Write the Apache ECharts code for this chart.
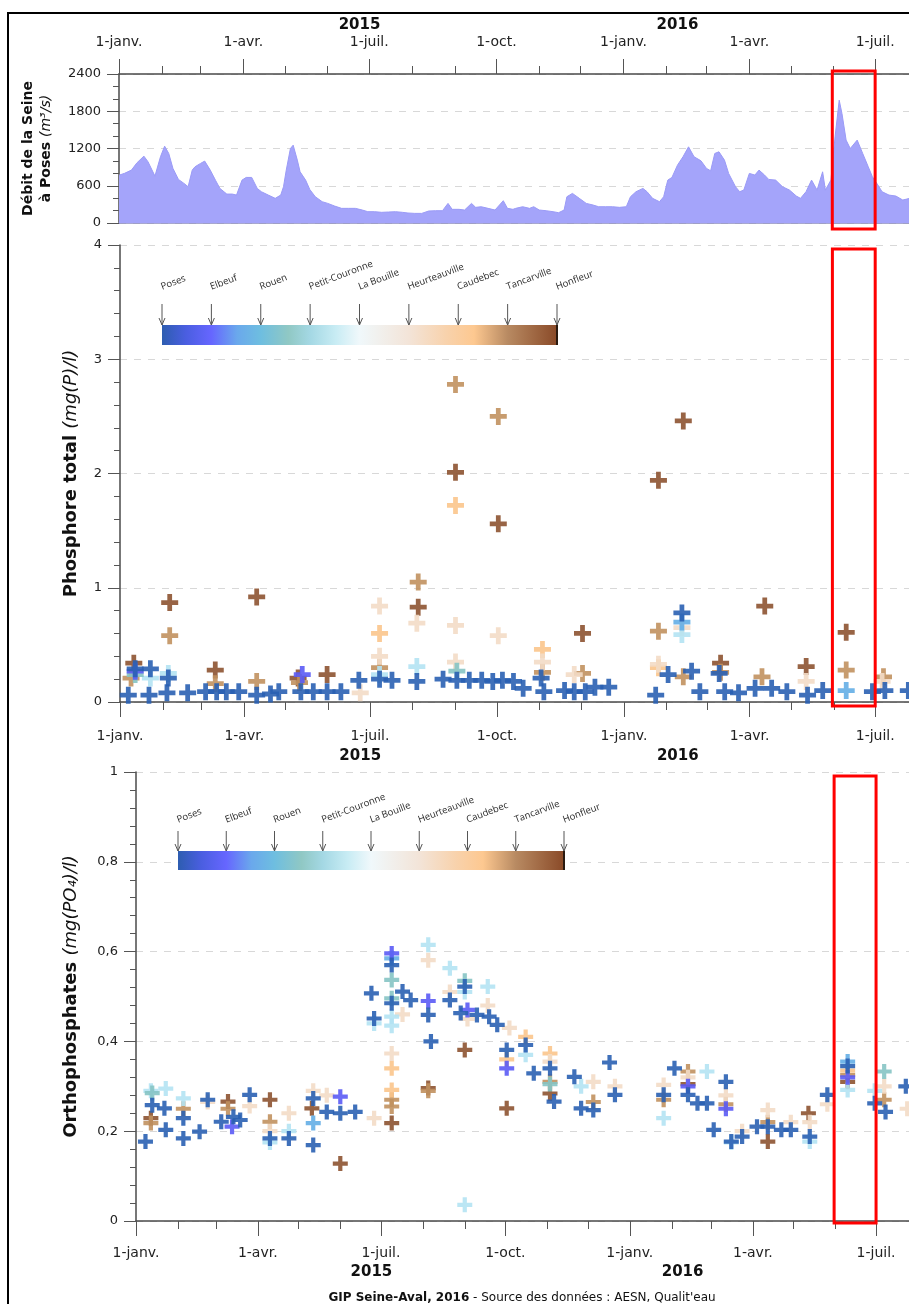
<!DOCTYPE html>
<html><head><meta charset="utf-8">
<script src="https://cdn.jsdelivr.net/npm/echarts@6/dist/echarts.min.js"></script>
<style>html,body{margin:0;padding:0;background:#fff;overflow:hidden;width:909px;height:1304px}#c{width:960px;height:1304px}</style>
</head><body><div id="c"></div><script>
// ---------- DATA (x = days since 1 Jan 2015) ----------
const stations = ['Poses','Elbeuf','Rouen','Petit-Couronne','La Bouille','Heurteauville','Caudebec','Tancarville','Honfleur'];
const monthNames = ['janv.','févr.','mars','avr.','mai','juin','juil.','août','sept.','oct.','nov.','déc.'];
const yearLabelDays = [174, 404];
const yearNames = ['2015', '2016'];
const flowTicks = [0, 600, 1200, 1800, 2400];
const ptTicks = [0, 1, 2, 3, 4];
const po4Ticks = [0, 0.2, 0.4, 0.6, 0.8, 1];
const highlightDays = [516, 547];

const flowDays = [0,4,9,13,18,21,26,30,33,36,39,43,47,50,53,55,59,62,66,70,73,78,82,85,89,92,96,100,103,108,113,117,119,121,124,126,129,131,135,138,142,147,151,156,161,166,171,176,180,185,190,195,200,205,209,214,219,224,229,234,238,241,246,250,255,258,262,267,272,278,281,285,287,292,297,300,304,309,314,318,322,324,326,328,333,338,343,347,352,357,362,367,370,374,379,382,386,391,394,397,400,404,408,412,416,421,425,428,431,434,438,441,446,449,452,456,460,463,467,470,475,480,485,490,493,497,501,503,505,509,511,515,518,521,523,526,529,534,538,542,545,549,552,557,562,567,572,578];
const flowValues = [770,800,852,970,1077,986,756,1067,1238,1120,880,702,638,584,852,906,960,997,852,681,557,466,466,450,691,734,734,557,504,450,397,450,584,852,1200,1254,1013,825,691,541,423,343,316,273,236,236,236,209,182,182,172,177,182,172,161,155,155,193,198,198,316,220,220,209,316,252,262,236,209,359,236,220,236,262,236,262,209,198,182,166,209,423,450,477,397,316,289,262,262,262,252,262,423,504,557,504,397,343,423,691,734,932,1067,1227,1067,1002,879,841,1120,1147,1013,799,584,504,531,799,772,852,772,702,691,584,531,434,397,504,691,611,531,825,531,691,1388,1978,1763,1335,1200,1335,1120,906,745,611,504,450,434,370,397,380];

// Phosphore total (mg(P)/l) : [day, value]
const ptPoses = [[6,0.06],[11,0.29],[21,0.06],[22,0.29],[34,0.08],[35,0.21],[49,0.08],[62,0.09],[70,0.09],[77,0.09],[86,0.09],[99,0.06],[109,0.07],[115,0.09],[131,0.09],[140,0.09],[150,0.09],[160,0.09],[173,0.19],[188,0.20],[197,0.19],[215,0.18],[234,0.20],[244,0.19],[253,0.19],[262,0.19],[270,0.18],[277,0.19],[285,0.18],[292,0.12],[305,0.21],[307,0.09],[322,0.10],[329,0.09],[337,0.09],[344,0.13],[354,0.13],[388,0.06],[397,0.24],[407,0.78],[414,0.27],[420,0.09],[434,0.25],[438,0.09],[448,0.08],[460,0.12],[472,0.12],[483,0.09],[498,0.06],[509,0.10],[545,0.09],[554,0.10],[571,0.10]];
const ptElbeuf = [[11,0.27],[132,0.24]];
const ptRouen = [[407,0.70],[526,0.10]];
const ptPetitCouronne = [[11,0.24],[244,0.27]];
const ptLaBouille = [[22,0.21],[35,0.25],[188,0.24],[215,0.31],[407,0.59]];
const ptHeurteauville = [[174,0.08],[188,0.84],[188,0.40],[215,0.69],[243,0.67],[243,0.35],[274,0.58],[306,0.35],[329,0.24],[390,0.33],[407,0.65],[497,0.18],[552,0.18]];
const ptCaudebec = [[188,0.60],[243,1.72],[306,0.46],[390,0.30]];
const ptTancarville = [[8,0.21],[36,0.58],[69,0.16],[99,0.18],[130,0.17],[188,0.30],[216,1.05],[243,2.78],[274,2.50],[306,0.26],[335,0.25],[390,0.62],[408,0.22],[435,0.26],[465,0.22],[526,0.28],[553,0.22]];
const ptHonfleur = [[10,0.34],[36,0.87],[69,0.28],[99,0.92],[129,0.21],[150,0.24],[216,0.83],[243,2.01],[274,1.56],[335,0.60],[390,1.94],[408,2.46],[435,0.34],[467,0.84],[497,0.31],[526,0.61]];

// Orthophosphates (mg(PO4)/l) : [day, value]
const po4Poses = [[7,0.177],[12,0.258],[21,0.251],[22,0.203],[35,0.229],[35,0.184],[47,0.199],[53,0.27],[63,0.221],[72,0.232],[77,0.225],[84,0.281],[99,0.184],[113,0.184],[131,0.273],[131,0.169],[141,0.243],[151,0.24],[162,0.243],[174,0.507],[176,0.451],[189,0.570],[189,0.485],[197,0.511],[203,0.492],[216,0.459],[218,0.40],[232,0.492],[240,0.463],[243,0.522],[252,0.459],[261,0.455],[267,0.437],[274,0.381],[288,0.392],[294,0.329],[306,0.34],[309,0.266],[324,0.321],[329,0.251],[338,0.247],[350,0.353],[354,0.281],[390,0.281],[398,0.34],[408,0.281],[415,0.262],[422,0.262],[427,0.203],[436,0.31],[440,0.177],[448,0.188],[459,0.21],[467,0.21],[477,0.203],[484,0.203],[498,0.188],[511,0.281],[526,0.345],[546,0.262],[554,0.243],[569,0.30]];
const po4Elbeuf = [[71,0.21],[151,0.277],[189,0.596],[216,0.49],[245,0.47],[274,0.34],[408,0.30],[436,0.25],[526,0.32]];
const po4Rouen = [[131,0.218],[189,0.585],[526,0.355]];
const po4PetitCouronne = [[12,0.285],[189,0.537],[189,0.496],[243,0.535],[306,0.305],[553,0.333]];
const po4LaBouille = [[11,0.29],[22,0.295],[35,0.273],[99,0.175],[113,0.20],[176,0.44],[189,0.455],[189,0.435],[216,0.615],[232,0.563],[243,0.51],[243,0.036],[260,0.522],[288,0.37],[329,0.30],[390,0.229],[422,0.333],[440,0.175],[498,0.177],[526,0.292],[546,0.29]];
const po4Heurteauville = [[53,0.265],[84,0.256],[99,0.20],[113,0.24],[131,0.29],[141,0.28],[176,0.229],[189,0.373],[197,0.46],[216,0.581],[232,0.51],[245,0.45],[260,0.48],[276,0.43],[306,0.355],[338,0.31],[354,0.30],[390,0.303],[408,0.32],[436,0.28],[448,0.20],[467,0.247],[484,0.22],[498,0.22],[511,0.26],[553,0.30],[570,0.25]];
const po4Caudebec = [[189,0.34],[189,0.292],[274,0.36],[288,0.41],[306,0.373],[526,0.335]];
const po4Tancarville = [[11,0.218],[35,0.25],[68,0.25],[99,0.221],[189,0.27],[189,0.255],[216,0.29],[306,0.31],[338,0.265],[390,0.27],[408,0.333],[436,0.26],[467,0.22],[526,0.325],[553,0.27]];
const po4Honfleur = [[11,0.229],[68,0.266],[99,0.27],[130,0.251],[151,0.128],[189,0.218],[216,0.296],[243,0.381],[274,0.251],[306,0.284],[408,0.305],[467,0.177],[497,0.24],[526,0.31]];

const ptData = [ptPoses, ptElbeuf, ptRouen, ptPetitCouronne, ptLaBouille, ptHeurteauville, ptCaudebec, ptTancarville, ptHonfleur];
const po4Data = [po4Poses, po4Elbeuf, po4Rouen, po4PetitCouronne, po4LaBouille, po4Heurteauville, po4Caudebec, po4Tancarville, po4Honfleur];

// ---------- STYLE ----------
const stationColors = ['#2a61b2','#5b5bf5','#64aee6','#86c4c4','#b4e3f3','#f3dcc6','#fbc58c','#c1915f','#8d5331'];
const barStops = [[0,'#2d5db0'],[0.06,'#4a5ee0'],[0.125,'#6666ff'],[0.19,'#6aa8ec'],[0.25,'#6ebee0'],[0.32,'#90c8c4'],[0.375,'#a4d8e4'],[0.44,'#c8ecf4'],[0.5,'#f0f8fb'],[0.625,'#f3e4d8'],[0.72,'#f8d2ac'],[0.79,'#fdc890'],[0.875,'#b88a62'],[1,'#8a4a28']];
const FF = 'DejaVu Sans';
const plus = 'path://M-1.4,-5H1.4V-1.4H5V1.4H1.4V5H-1.4V1.4H-5V-1.4H-1.4Z';

const DAY0 = new Date(2015, 0, 1).getTime();
const XMIN = 0, XMAX = 578;
const monthTicks = [], quarterTicks = [], monthOfDay = {};
for (let m = 0; m <= 19; m++) {
  const d = Math.round((new Date(2015, m, 1).getTime() - DAY0) / 86400000);
  monthTicks.push(d); monthOfDay[d] = m % 12;
  if (m % 3 === 0) quarterTicks.push(d);
}

const grids = [
  {left:119, top:74, width:799, height:149},
  {left:120, top:245, width:798, height:457},
  {left:136, top:772, width:782, height:449}
];
const axisCol = '#4a4a4a';
function xAxes(g, pos, mMargin, yMargin) {
  const base = {type:'value', gridIndex:g, position:pos, min:XMIN, max:XMAX, splitLine:{show:false}, minorTick:{show:false}};
  return [
    Object.assign({}, base, {axisLine:{show:true, onZero:false, lineStyle:{color:axisCol, width:1.5}},
      axisTick:{show:true, customValues:quarterTicks, length:15, lineStyle:{color:'#555', width:1}},
      axisLabel:{show:true, customValues:quarterTicks, margin:mMargin, fontFamily:FF, fontSize:14, color:'#222',
        formatter: v => '1-' + monthNames[monthOfDay[Math.round(v)]]}}),
    Object.assign({}, base, {axisLine:{show:false, onZero:false},
      axisTick:{show:true, customValues:monthTicks, length:8, lineStyle:{color:'#555', width:1}},
      axisLabel:{show:false}}),
    Object.assign({}, base, {axisLine:{show:false, onZero:false}, axisTick:{show:false},
      axisLabel:{show:true, customValues:yearLabelDays, margin:yMargin, fontFamily:FF, fontSize:15, fontWeight:'bold', color:'#111',
        formatter: v => yearNames[yearLabelDays.indexOf(Math.round(v))] || ''}})
  ];
}
const xAxis = [].concat(
  xAxes(0, 'top', 25, 41),
  [{type:'value', gridIndex:0, position:'bottom', min:XMIN, max:XMAX, axisLine:{show:true, onZero:false, lineStyle:{color:'#8c8cc0', width:1.5}}, axisTick:{show:false}, axisLabel:{show:false}, splitLine:{show:false}}],
  xAxes(1, 'bottom', 27, 47),
  xAxes(2, 'bottom', 25, 44)
);
function yAxis(g, ticks, minorSplit, fmt, name, gap) {
  return {type:'value', gridIndex:g, min:ticks[0], max:ticks[ticks.length-1], interval:ticks[1]-ticks[0],
    axisLine:{show:true, onZero:false, lineStyle:{color:axisCol, width:1.5}},
    axisTick:{show:true, length:12, lineStyle:{color:'#555'}},
    minorTick:{show:true, splitNumber:minorSplit, length:6, lineStyle:{color:'#555'}},
    axisLabel:{margin:18, fontFamily:FF, fontSize:13, color:'#222', formatter:fmt},
    splitLine:{show:true, lineStyle:{color:'#d8d8d8', type:[7,7], width:1}},
    name:name, nameLocation:'middle', nameRotate:90, nameGap:gap,
    nameTextStyle:{align:'center', rich:{
      b:{fontFamily:FF, fontWeight:'bold', fontSize:g===0?14:18, color:'#111', lineHeight:g===0?18:22},
      i:{fontFamily:FF, fontStyle:'italic', fontSize:g===0?14:18, color:'#111', lineHeight:g===0?18:22}}}};
}
const yAxisList = [
  yAxis(0, flowTicks, 3, v => String(v), '{b|Débit de la Seine}\n{b|à Poses }{i|(m³/s)}', 64),
  yAxis(1, ptTicks, 5, v => String(v), '{b|Phosphore total }{i|(mg(P)/l)}', 38),
  yAxis(2, po4Ticks, 5, v => String(v).replace('.', ','), '{b|Orthophosphates }{i|(mg(PO₄)/l)}', 54)
];

const series = [{
  type:'line', xAxisIndex:0, yAxisIndex:0, data: flowDays.map((d,i) => [d, flowValues[i]]),
  showSymbol:false, lineStyle:{width:1, color:'#9a9af6'}, areaStyle:{color:'#a4a4fa', opacity:1}, silent:true
}];
for (let s = stations.length - 1; s >= 0; s--) {
  series.push({type:'scatter', name:stations[s], xAxisIndex:4, yAxisIndex:1, data: ptData[s],
    symbol:plus, symbolSize:17, itemStyle:{color:stationColors[s], opacity:0.9}});
  series.push({type:'scatter', name:stations[s], xAxisIndex:7, yAxisIndex:2, data: po4Data[s],
    symbol:plus, symbolSize:15, itemStyle:{color:stationColors[s], opacity:0.9}});
}

const chart = echarts.init(document.getElementById('c'), null, {renderer:'canvas'});
chart.setOption({animation:false, textStyle:{fontFamily:FF}, grid:grids, xAxis:xAxis, yAxis:yAxisList, series:series});

// ---------- annotations ----------
const graphic = [];
graphic.push({type:'rect', shape:{x:8, y:13, width:950, height:1310}, style:{fill:'none', stroke:'#000', lineWidth:2}, z:100});
function colorbar(x0, x1, yTop, h, arrowTop, labelY) {
  graphic.push({type:'rect', shape:{x:x0, y:yTop, width:x1-x0, height:h},
    style:{fill:new echarts.graphic.LinearGradient(0,0,1,0, barStops.map(s => ({offset:s[0], color:s[1]})))}, z:50});
  graphic.push({type:'line', shape:{x1:x1, y1:yTop, x2:x1, y2:yTop+h}, style:{stroke:'#2a1a10', lineWidth:2}, z:51});
  const step = (x1 - x0) / (stations.length - 1);
  stations.forEach((name, i) => {
    const x = x0 + i * step;
    graphic.push({type:'line', shape:{x1:x, y1:arrowTop, x2:x, y2:yTop}, style:{stroke:'#555', lineWidth:1}, z:52});
    graphic.push({type:'polyline', shape:{points:[[x-3,yTop-7],[x,yTop],[x+3,yTop-7]]}, style:{stroke:'#555', lineWidth:1, fill:'none'}, z:52});
    graphic.push({type:'text', x:x+1, y:labelY, rotation:0.36, style:{text:name, fontFamily:'Open Sans', fontSize:9.5, fill:'#2a2a2a', textAlign:'left', textVerticalAlign:'bottom'}, z:52});
  });
}
colorbar(162, 557, 325, 20, 304, 292);
colorbar(178, 564, 851, 19, 831, 825);

function px(xi, v) { return chart.convertToPixel({xAxisIndex:xi}, v); }
function py(yi, v) { return chart.convertToPixel({yAxisIndex:yi}, v); }
const rectSpecs = [[0, 0, flowTicks[flowTicks.length-1], -3, 6], [4, 1, ptTicks[ptTicks.length-1], 4, 4], [7, 2, po4Ticks[po4Ticks.length-1], 4, 2]];
rectSpecs.forEach(r => {
  const xa = px(r[0], highlightDays[0]), xb = px(r[0], highlightDays[1]);
  const ya = py(r[1], r[2]) + r[3], yb = py(r[1], 0) + r[4];
  graphic.push({type:'rect', shape:{x:xa, y:ya, width:xb-xa, height:yb-ya}, style:{fill:'none', stroke:'#ff0000', lineWidth:3}, z:60});
});
graphic.push({type:'text', x:522, y:1292, style:{text:'{b|GIP Seine-Aval, 2016}{n| - Source des données : AESN, Qualit\'eau}', textAlign:'center', textVerticalAlign:'top',
  rich:{b:{fontFamily:FF, fontWeight:'bold', fontSize:12, fill:'#111'}, n:{fontFamily:FF, fontSize:12, fill:'#111'}}}, z:60});
chart.setOption({graphic:graphic});
</script></body></html>
